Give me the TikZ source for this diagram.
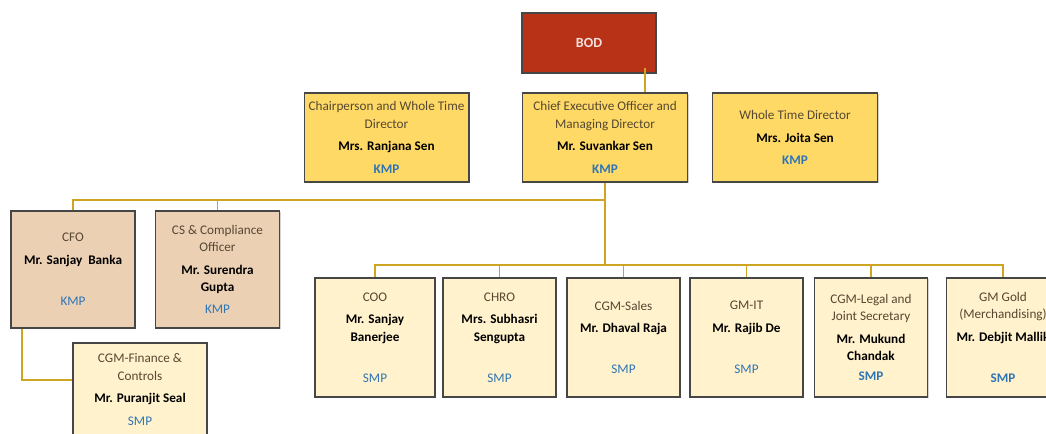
\documentclass[tikz,border=0pt]{standalone}
\usepackage{fontspec}
\setmainfont{Carlito}
\usetikzlibrary{positioning,shadows}

\definecolor{boxedge}{RGB}{70,70,70}
\definecolor{bodred}{RGB}{183,50,22}
\definecolor{kmpfill}{RGB}{255,217,102}
\definecolor{tanfill}{RGB}{236,208,180}
\definecolor{smpfill}{RGB}{255,242,204}
\definecolor{linkgold}{RGB}{205,165,35}
\definecolor{rolegray}{RGB}{85,72,50}
\definecolor{gradeblue}{RGB}{46,117,182}

\newcommand{\role}[1]{\textcolor{rolegray}{#1}}
\newcommand{\who}[1]{\textbf{#1}}
\newcommand{\grade}[1]{\textcolor{gradeblue}{#1}}

\tikzstyle{box}    = [draw=boxedge, line width=1pt, rectangle, inner sep=0pt, align=center,
                      font=\fontsize{9.9}{12.9}\selectfont,
                      drop shadow={shadow xshift=0.9pt, shadow yshift=-0.9pt, opacity=0.35}]
\tikzstyle{bodbox} = [box, fill=bodred, minimum width=100.5pt, minimum height=45pt]
\tikzstyle{topbox} = [box, fill=kmpfill, minimum width=123.5pt, minimum height=66.75pt]
\tikzstyle{keybox} = [box, fill=tanfill, minimum width=93pt, minimum height=87.75pt]
\tikzstyle{smpbox} = [box, fill=smpfill, minimum width=84.75pt, minimum height=89.25pt]
\tikzstyle{link}   = [draw=linkgold, line width=1.3pt]
\tikzstyle{trunk}  = [draw=linkgold, line width=2pt]

\begin{document}
\begin{tikzpicture}[x=0.75pt, y=-0.75pt]

    \useasboundingbox (0,0) rectangle (1046,433);
    \clip (0,0) rectangle (1046,433);

    \node[bodbox] (bod) at (589,43) {\fontsize{10.5}{12}\selectfont\textcolor{white!85!bodred}{\textbf{BOD}}};

    \node[topbox] (chair) at (386.5,137.5) {\role{Chairperson and Whole Time}\\ \role{Director}\\[4pt] \who{Mrs. Ranjana Sen}\\[4pt] \grade{\textbf{KMP}}};
    \node[topbox] (ceo)   at (605,137.5)   {\role{Chief Executive Officer and}\\ \role{Managing Director}\\[4pt] \who{Mr. Suvankar Sen}\\[4pt] \grade{\textbf{KMP}}};
    \node[topbox] (wtd)   at (795,137.5)   {\role{Whole Time Director}\\[4pt] \who{Mrs. Joita Sen}\\[4pt] \grade{\textbf{KMP}}};

    \node[keybox] (cfo) at (73,269.5)    {\role{CFO}\\[4pt] \who{Mr. Sanjay~~Banka}\\[18pt] \grade{KMP}};
    \node[keybox] (cs)  at (217.5,269.5) {\role{CS \& Compliance}\\ \role{Officer}\\[4pt] \who{Mr. Surendra}\\ \who{Gupta}\\[4pt] \grade{KMP}};

    \node[smpbox, minimum width=90pt] (coo) at (375,337.5) {\role{COO}\\[4pt] \who{Mr. Sanjay}\\ \who{Banerjee}\\[18pt] \grade{SMP}};
    \node[smpbox] (chro)  at (499.5,337.5) {\role{CHRO}\\[4pt] \who{Mrs. Subhasri}\\ \who{Sengupta}\\[18pt] \grade{SMP}};
    \node[smpbox] (sales) at (623.5,337.5) {\role{CGM-Sales}\\[4pt] \who{Mr. Dhaval Raja}\\[18pt] \grade{SMP}};
    \node[smpbox] (it)    at (746.5,337.5) {\role{GM-IT}\\[4pt] \who{Mr. Rajib De}\\[18pt] \grade{SMP}};
    \node[smpbox] (legal) at (871,337.5)   {\role{CGM-Legal and}\\ \role{Joint Secretary}\\[4pt] \who{Mr. Mukund}\\ \who{Chandak}\\[2pt] \grade{\textbf{SMP}}};
    \node[smpbox] (gold)  at (1003,337.5)  {\role{GM Gold}\\ \role{(Merchandising)}\\[4pt] \who{Mr. Debjit Mallik}\\[18pt] \grade{\textbf{SMP}}};

    \node[smpbox, minimum width=100.5pt, minimum height=69.75pt] (fin) at (140,389.5) {\role{CGM-Finance \&}\\ \role{Controls}\\[4pt] \who{Mr. Puranjit Seal}\\[4pt] \grade{SMP}};

    % bus lines
    \coordinate (bodtap) at (645,68);
    \coordinate (upbus)  at (605,200);
    \coordinate (lowbus) at (605,265);

    \draw[link, line width=0.8pt] (bodtap) -- (bodtap |- ceo.north);
    \draw[trunk] (ceo.south) -- (lowbus);
    \draw[link]  (cfo.north) |- (upbus);
    \draw[link]  (cs.north) -- (cs.north |- upbus);
    \draw[link]  (coo.north) |- (lowbus -| gold.north) -- (gold.north);
    \foreach \n in {chro,sales,it,legal}
        \draw[link] (\n.north) -- (\n.north |- lowbus);
    \draw[link]  ([xshift=9pt]cfo.south west) |- ([yshift=7pt]fin.west);

\end{tikzpicture}
\end{document}
